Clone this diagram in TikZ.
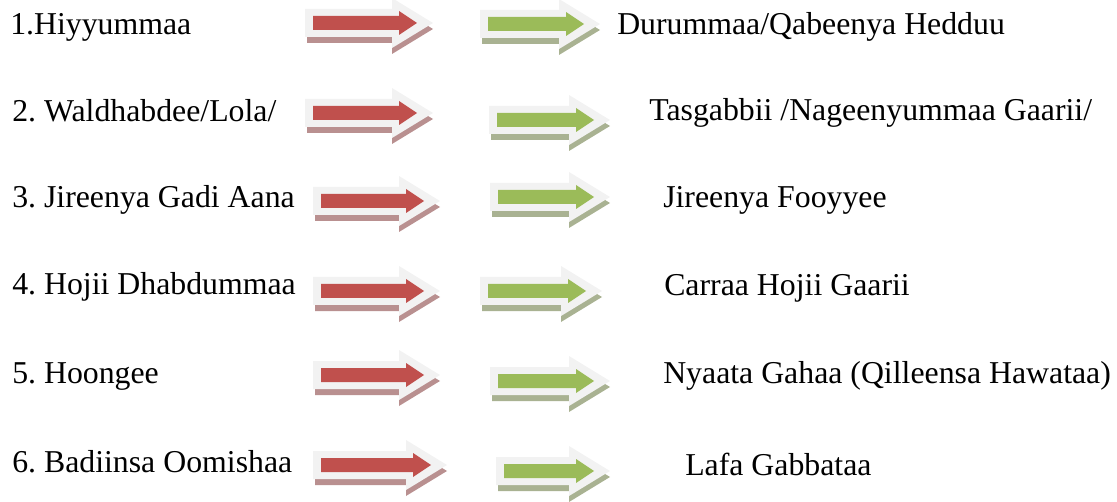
\documentclass[tikz,border=0pt]{standalone}
\usepackage{fontspec}
\setmainfont{Liberation Serif}
\usepackage{tikz}
\usetikzlibrary{positioning}
\frenchspacing
\definecolor{arrowred}{HTML}{C0504D}
\definecolor{arrowgreen}{HTML}{9BBB59}
\definecolor{arrowframe}{HTML}{F2F2F2}
\definecolor{redshade}{HTML}{B99090}
\definecolor{greenshade}{HTML}{A9B292}

\tikzset{
  itemtext/.style={anchor=base west, inner sep=0pt, font=\fontsize{23.85}{28}\selectfont},
  % #1 length, #2 arrow colour, #3 reflection colour
  pics/blockarrow/.style n args={3}{code={
    \fill[#3, shift={(0,6)}] (2,-14) -- (#1-41,-14) -- (#1-41,-25) -- (#1,0)
      -- (#1-41,25) -- (#1-41,14) -- (2,14) -- cycle;
    \fill[arrowframe] (0,-14) -- (#1-41,-14) -- (#1-41,-25) -- (#1,0)
      -- (#1-41,25) -- (#1-41,14) -- (0,14) -- cycle;
    \fill[#2] (8,-7) -- (#1-34,-7) -- (#1-34,-12) -- (#1-16,0)
      -- (#1-34,12) -- (#1-34,7) -- (8,7) -- cycle;
  }}
}

\begin{document}
\begin{tikzpicture}[x=0.75pt, y=-0.75pt]
  \useasboundingbox (0,0) rectangle (1117,502);

  % left column
  \node[itemtext] (cause1) at (10,35) {1.Hiyyummaa};
  \node[itemtext] (cause2) at (12,122) {2. Waldhabdee/Lola/};
  \node[itemtext] (cause3) at (12,208) {3. Jireenya Gadi Aana};
  \node[itemtext] (cause4) at (12,295) {4. Hojii Dhabdummaa};
  \node[itemtext] (cause5) at (12,383) {5. Hoongee};
  \node[itemtext] (cause6) at (12,472) {6. Badiinsa Oomishaa};

  % arrows
  \pic (red1) at (305,23) {blockarrow={128}{arrowred}{redshade}};
  \pic (red2) at (305,113) {blockarrow={128}{arrowred}{redshade}};
  \pic (red3) at (313,201) {blockarrow={127}{arrowred}{redshade}};
  \pic (red4) at (313,291) {blockarrow={127}{arrowred}{redshade}};
  \pic (red5) at (313,375) {blockarrow={127}{arrowred}{redshade}};
  \pic (red6) at (313,465) {blockarrow={134}{arrowred}{redshade}};

  \pic (green1) at (480,24) {blockarrow={120}{arrowgreen}{greenshade}};
  \pic (green2) at (489,120) {blockarrow={121}{arrowgreen}{greenshade}};
  \pic (green3) at (490,197) {blockarrow={120}{arrowgreen}{greenshade}};
  \pic (green4) at (480,291) {blockarrow={122}{arrowgreen}{greenshade}};
  \pic (green5) at (490,381) {blockarrow={120}{arrowgreen}{greenshade}};
  \pic (green6) at (496,471) {blockarrow={114}{arrowgreen}{greenshade}};

  % right column
  \node[itemtext] (effect1) at (617,35) {Durummaa/Qabeenya Hedduu};
  \node[itemtext] (effect2) at (649,121) {Tasgabbii /Nageenyummaa Gaarii/};
  \node[itemtext] (effect3) at (663,208) {Jireenya Fooyyee};
  \node[itemtext] (effect4) at (664,296) {Carraa Hojii Gaarii};
  \node[itemtext] (effect5) at (663,383) {Nyaata Gahaa (Qilleensa Hawataa)};
  \node[itemtext] (effect6) at (685,475) {Lafa Gabbataa};
\end{tikzpicture}
\end{document}
